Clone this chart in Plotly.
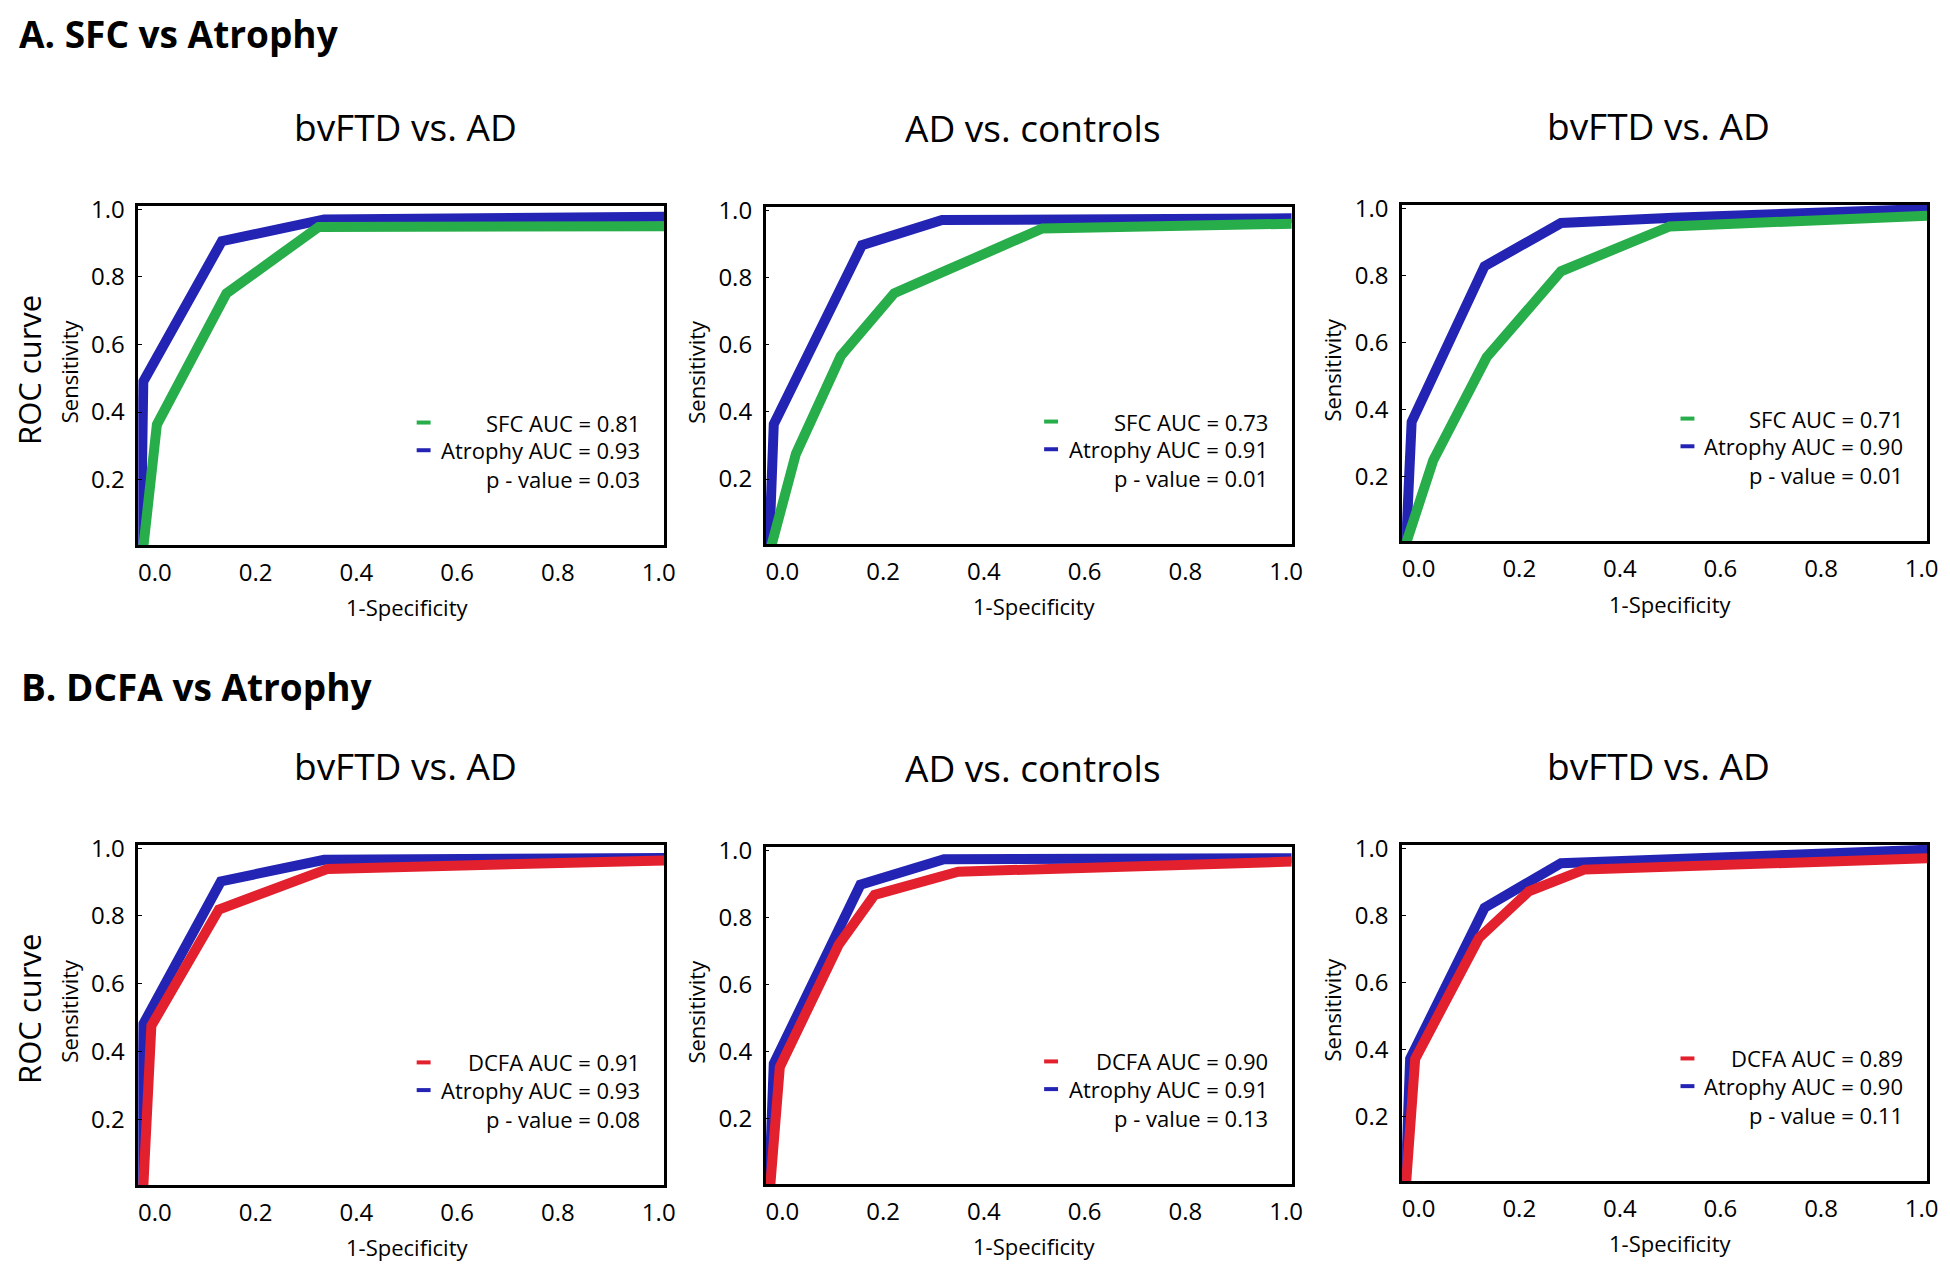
import plotly.graph_objects as go

W, H = 1950, 1270

# ---- data ----
row_titles = ['A. SFC vs Atrophy', 'B. DCFA vs Atrophy']
panel_titles = ['bvFTD vs. AD', 'AD vs. controls', 'bvFTD vs. AD']

# row A: SFC vs atrophy
a1_atrophy_x = [-0.028, -0.023, 0.133, 0.336, 1.011]
a1_atrophy_y = [0.0, 0.49, 0.906, 0.970, 0.978]
a1_sfc_x = [-0.023, 0.004, 0.142, 0.325, 1.011]
a1_sfc_y = [0.0, 0.363, 0.751, 0.948, 0.950]

a2_atrophy_x = [-0.026, -0.017, 0.158, 0.317, 1.011]
a2_atrophy_y = [0.0, 0.363, 0.896, 0.971, 0.976]
a2_sfc_x = [-0.022, 0.027, 0.116, 0.222, 0.321, 0.516, 1.011]
a2_sfc_y = [0.0, 0.275, 0.566, 0.753, 0.818, 0.946, 0.960]

a3_atrophy_x = [-0.025, -0.014, 0.131, 0.283, 0.506, 1.011]
a3_atrophy_y = [0.0, 0.362, 0.827, 0.956, 0.972, 0.998]
a3_sfc_x = [-0.025, 0.029, 0.135, 0.283, 0.499, 1.011]
a3_sfc_y = [0.0, 0.248, 0.555, 0.812, 0.946, 0.978]

# row B: DCFA vs atrophy
b1_atrophy_x = [-0.027, -0.023, 0.131, 0.336, 1.011]
b1_atrophy_y = [0.0, 0.481, 0.902, 0.966, 0.971]
b1_dcfa_x = [-0.023, -0.007, 0.127, 0.343, 1.011]
b1_dcfa_y = [0.0, 0.476, 0.819, 0.939, 0.964]

b2_atrophy_x = [-0.026, -0.017, 0.155, 0.321, 1.011]
b2_atrophy_y = [0.0, 0.364, 0.897, 0.973, 0.976]
b2_dcfa_x = [-0.024, -0.005, 0.112, 0.183, 0.349, 1.011]
b2_dcfa_y = [0.0, 0.354, 0.719, 0.867, 0.936, 0.966]

b3_atrophy_x = [-0.026, -0.017, 0.131, 0.283, 1.011]
b3_atrophy_y = [0.0, 0.371, 0.822, 0.955, 0.995]
b3_dcfa_x = [-0.025, -0.007, 0.120, 0.219, 0.329, 1.011]
b3_dcfa_y = [0.0, 0.371, 0.732, 0.871, 0.936, 0.970]

measure_names = ['SFC', 'SFC', 'SFC', 'DCFA', 'DCFA', 'DCFA']
measure_auc = ['0.81', '0.73', '0.71', '0.91', '0.90', '0.89']
atrophy_auc = ['0.93', '0.91', '0.90', '0.93', '0.91', '0.90']
p_values = ['0.03', '0.01', '0.01', '0.08', '0.13', '0.11']

x_ticks = [0.0, 0.2, 0.4, 0.6, 0.8, 1.0]
y_ticks = [0.2, 0.4, 0.6, 0.8, 1.0]

BLUE = '#2424b4'
GREEN = '#27ad4a'
RED = '#e3202d'
FONT = 'Open Sans'

curves = [
    (a1_atrophy_x, a1_atrophy_y, a1_sfc_x, a1_sfc_y, GREEN),
    (a2_atrophy_x, a2_atrophy_y, a2_sfc_x, a2_sfc_y, GREEN),
    (a3_atrophy_x, a3_atrophy_y, a3_sfc_x, a3_sfc_y, GREEN),
    (b1_atrophy_x, b1_atrophy_y, b1_dcfa_x, b1_dcfa_y, RED),
    (b2_atrophy_x, b2_atrophy_y, b2_dcfa_x, b2_dcfa_y, RED),
    (b3_atrophy_x, b3_atrophy_y, b3_dcfa_x, b3_dcfa_y, RED),
]

# pixel boxes of each plot frame: left, right, top, bottom
frames = [
    (131, 660, 186, 529),
    (762, 1291, 187, 528),
    (1402, 1930, 185, 525),
    (131, 660, 832, 1176),
    (762, 1291, 834, 1175),
    (1402, 1930, 832, 1172),
]
title_dx = [4, 4, -6, 4, 4, -6]


def px(x):
    return x / W


def py(y):
    return 1 - y / H


fig = go.Figure()
layout = dict(
    width=W, height=H,
    margin=dict(l=0, r=0, t=0, b=0),
    paper_bgcolor='white', plot_bgcolor='white',
    showlegend=False,
    font=dict(family=FONT, color='black'),
    title=dict(text='<b>' + row_titles[0] + '</b>', x=px(11), xanchor='left',
               xref='container', yref='container', y=py(14), yanchor='top',
               pad=dict(t=0, b=0, l=0, r=0), font=dict(size=37, family=FONT)),
)
annotations = []
shapes = []

for i, (ax_x, ax_y, mx, my, mcol) in enumerate(curves):
    n = '' if i == 0 else str(i + 1)
    xa, ya = 'x' + n, 'y' + n
    fig.add_trace(go.Scatter(x=ax_x, y=ax_y, mode='lines', xaxis=xa, yaxis=ya,
                             line=dict(color=BLUE, width=10)))
    fig.add_trace(go.Scatter(x=mx, y=my, mode='lines', xaxis=xa, yaxis=ya,
                             line=dict(color=mcol, width=10)))

    left, right, top, bottom = frames[i]
    layout['xaxis' + n] = dict(
        domain=[px(left), px(right)], anchor=ya, range=[-0.033, 1.011],
        tickvals=x_ticks, tickformat='.1f', showgrid=False, zeroline=False,
        showline=True, mirror=True, linecolor='black', linewidth=2.5,
        ticks='', ticklabelstandoff=4, tickfont=dict(size=24, family=FONT))
    layout['yaxis' + n] = dict(
        domain=[py(bottom), py(top)], anchor=xa, range=[0.006, 1.01],
        tickvals=y_ticks, tickformat='.1f', showgrid=False, zeroline=False,
        showline=True, mirror=True, linecolor='black', linewidth=2.5,
        ticks='inside', ticklen=4, tickcolor='black',
        ticklabelstandoff=6, tickfont=dict(size=24, family=FONT))

    cx = (left + right) / 2
    cy = (top + bottom) / 2
    # panel title
    annotations.append(dict(text=panel_titles[i % 3], x=px(cx + title_dx[i]), y=py(top - 80),
                            xref='paper', yref='paper', showarrow=False,
                            xanchor='center', yanchor='middle',
                            font=dict(size=37, family=FONT)))
    # axis titles
    annotations.append(dict(text='Sensitivity', x=px(left - 70), y=py(cy - 4),
                            xref='paper', yref='paper', showarrow=False,
                            textangle=-90, xanchor='center', yanchor='middle',
                            font=dict(size=22, family=FONT)))
    annotations.append(dict(text='1-Specificity', x=px(cx + 6), y=py(bottom + 63),
                            xref='paper', yref='paper', showarrow=False,
                            xanchor='center', yanchor='middle',
                            font=dict(size=22, family=FONT)))
    # legend block
    legend_lines = [measure_names[i] + ' AUC = ' + measure_auc[i],
                    'Atrophy AUC = ' + atrophy_auc[i],
                    'p - value = ' + p_values[i]]
    offsets = [124, 96, 67]
    for k, txt in enumerate(legend_lines):
        annotations.append(dict(text=txt, x=px(right - 22), y=py(bottom - offsets[k]),
                                xref='paper', yref='paper', showarrow=False,
                                xanchor='right', yanchor='middle',
                                font=dict(size=22, family=FONT)))
    for k, col in enumerate([mcol, BLUE]):
        yy = py(bottom - offsets[k])
        shapes.append(dict(type='line', xref='paper', yref='paper',
                           x0=px(left + 280), x1=px(left + 294), y0=yy, y1=yy,
                           line=dict(color=col, width=4)))

# second row heading and the row labels
annotations.append(dict(text='<b>' + row_titles[1] + '</b>', x=px(11), y=py(672),
                        xref='paper', yref='paper', showarrow=False,
                        xanchor='left', yanchor='middle',
                        font=dict(size=37, family=FONT)))
for yc in [352, 998]:
    annotations.append(dict(text='ROC curve', x=px(21), y=py(yc),
                            xref='paper', yref='paper', showarrow=False,
                            textangle=-90, xanchor='center', yanchor='middle',
                            font=dict(size=31, family=FONT)))

layout['annotations'] = annotations
layout['shapes'] = shapes
fig.update_layout(**layout)

fig.write_html('out.html')
